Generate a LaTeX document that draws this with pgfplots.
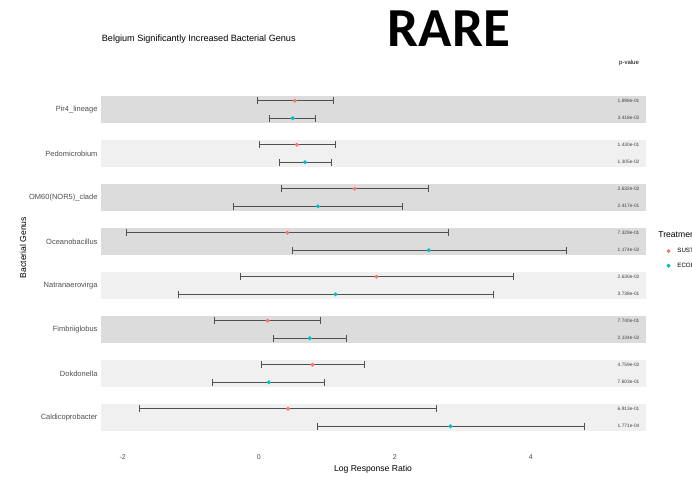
\documentclass[border=0pt]{standalone}
\usepackage{pgfplots}
\pgfplotsset{compat=1.18}
\usepackage{pgfplotstable}
\usepackage{fontspec}
\setmainfont{Liberation Sans}
\newfontfamily\rarefont{Carlito}
\definecolor{redS}{HTML}{F8766D}
\definecolor{tealE}{HTML}{00BFC4}
\definecolor{bandD}{HTML}{DCDCDC}
\definecolor{bandL}{HTML}{F0F0F0}
\definecolor{txtg}{HTML}{4D4D4D}
\definecolor{barc}{HTML}{505050}

\pgfplotstableread{
x y lo hi
0.53 8.2 -0.025 1.10
0.56 7.2 0.01 1.13
1.41 6.2 0.34 2.49
0.42 5.2 -1.95 2.79
1.73 4.2 -0.27 3.74
0.13 3.2 -0.65 0.90
0.79 2.2 0.04 1.55
0.43 1.2 -1.75 2.61
}\redtab

\pgfplotstableread{
x y lo hi
0.50 7.8 0.157 0.84
0.68 6.8 0.30 1.07
0.87 5.8 -0.37 2.11
2.50 4.8 0.50 4.53
1.13 3.8 -1.18 3.45
0.75 2.8 0.22 1.29
0.15 1.8 -0.68 0.97
2.82 0.8 0.86 4.79
}\tealtab

\begin{document}
\begin{tikzpicture}
\useasboundingbox (0,0) rectangle (692pt,476pt);
\begin{axis}[
  at={(101pt,45.3pt)}, anchor=south west,
  x=68pt, y=44pt,
  xmin=-2.32, xmax=5.69, ymin=0.7, ymax=8.3,
  clip=false,
  axis line style={draw=none},
  major tick length=0pt,
  tick style={draw=none},
  xtick={-2,0,2,4},
  ytick={1,2,3,4,5,6,7,8},
  yticklabels={Caldicoprobacter,Dokdonella,Fimbriiglobus,Natranaerovirga,Oceanobacillus,OM60(NOR5)\_clade,Pedomicrobium,Pir4\_lineage},
  /pgf/number format/assume math mode=true,
  xticklabel style={anchor=center, yshift=-26pt, font=\fontsize{7}{8}\selectfont, text=txtg},
  yticklabel style={font=\fontsize{7.5}{9}\selectfont, text=txtg},
  legend style={at={(axis description cs:1.026,0.601)}, anchor=north west, draw=none, fill=none,
     font=\fontsize{6.2}{7.5}\selectfont, row sep=4.8pt, inner sep=0pt},
  legend cell align=left,
]
% bands
\addplot[fill=bandL, draw=none, forget plot] coordinates {(-2.32,0.7) (5.69,0.7) (5.69,1.3) (-2.32,1.3)} -- cycle;
\addplot[fill=bandL, draw=none, forget plot] coordinates {(-2.32,1.7) (5.69,1.7) (5.69,2.3) (-2.32,2.3)} -- cycle;
\addplot[fill=bandD, draw=none, forget plot] coordinates {(-2.32,2.7) (5.69,2.7) (5.69,3.3) (-2.32,3.3)} -- cycle;
\addplot[fill=bandL, draw=none, forget plot] coordinates {(-2.32,3.7) (5.69,3.7) (5.69,4.3) (-2.32,4.3)} -- cycle;
\addplot[fill=bandD, draw=none, forget plot] coordinates {(-2.32,4.7) (5.69,4.7) (5.69,5.3) (-2.32,5.3)} -- cycle;
\addplot[fill=bandD, draw=none, forget plot] coordinates {(-2.32,5.7) (5.69,5.7) (5.69,6.3) (-2.32,6.3)} -- cycle;
\addplot[fill=bandL, draw=none, forget plot] coordinates {(-2.32,6.7) (5.69,6.7) (5.69,7.3) (-2.32,7.3)} -- cycle;
\addplot[fill=bandD, draw=none, forget plot] coordinates {(-2.32,7.7) (5.69,7.7) (5.69,8.3) (-2.32,8.3)} -- cycle;
% error bars
\addplot[draw=none, mark=none, forget plot,
  error bars/.cd, x dir=both, x explicit,
  error bar style={draw=barc, line width=0.9pt},
  error mark options={rotate=90, draw=barc, line width=0.9pt, mark size=3.5pt}]
  table[x=x, y=y, x error plus expr=\thisrow{hi}-\thisrow{x}, x error minus expr=\thisrow{x}-\thisrow{lo}]{\redtab};
\addplot[draw=none, mark=none, forget plot,
  error bars/.cd, x dir=both, x explicit,
  error bar style={draw=barc, line width=0.9pt},
  error mark options={rotate=90, draw=barc, line width=0.9pt, mark size=3.5pt}]
  table[x=x, y=y, x error plus expr=\thisrow{hi}-\thisrow{x}, x error minus expr=\thisrow{x}-\thisrow{lo}]{\tealtab};
% legend title
\addlegendimage{empty legend}
\addlegendentry{\hspace{-14pt}\fontsize{8.6}{10}\selectfont Treatment}
% points
\addplot[only marks, mark=*, mark size=1.8pt, color=redS, mark options={draw=redS, fill=redS}] table[x=x,y=y]{\redtab};
\addlegendentry{\hspace{5pt}SUSTAINABLE}
\addplot[only marks, mark=*, mark size=1.8pt, color=tealE, mark options={draw=tealE, fill=tealE}] table[x=x,y=y]{\tealtab};
\addlegendentry{\hspace{5pt}ECOLOGICAL}
% p-values
\begin{scope}[every node/.style={anchor=east, font=\fontsize{4.8}{5}\selectfont, text=black!75, inner sep=0pt}]
\node at (axis cs:5.60,8.2) {1.898e-01};
\node at (axis cs:5.60,7.8) {3.418e-02};
\node at (axis cs:5.60,7.2) {1.430e-01};
\node at (axis cs:5.60,6.8) {1.305e-02};
\node at (axis cs:5.60,6.2) {2.632e-02};
\node at (axis cs:5.60,5.8) {2.417e-01};
\node at (axis cs:5.60,5.2) {7.329e-01};
\node at (axis cs:5.60,4.8) {1.174e-02};
\node at (axis cs:5.60,4.2) {2.630e-02};
\node at (axis cs:5.60,3.8) {3.738e-01};
\node at (axis cs:5.60,3.2) {7.740e-01};
\node at (axis cs:5.60,2.8) {2.134e-02};
\node at (axis cs:5.60,2.2) {4.759e-02};
\node at (axis cs:5.60,1.8) {7.603e-01};
\node at (axis cs:5.60,1.2) {6.913e-01};
\node at (axis cs:5.60,0.8) {1.771e-04};
\end{scope}
\end{axis}
% titles
\node[anchor=west, font=\fontsize{9.1}{11}\selectfont, inner sep=0pt] at (101.7pt,437pt) {Belgium Significantly Increased Bacterial Genus};
\node[font=\rarefont\bfseries\fontsize{55}{60}\selectfont, inner sep=0pt] at (449pt,447.7pt) {RARE};
\node[font=\fontsize{6}{7}\selectfont, inner sep=0pt] at (629pt,413pt) {p-value};
\node[rotate=90, font=\fontsize{8.6}{10}\selectfont, inner sep=0pt] at (23pt,228.5pt) {Bacterial Genus};
\node[font=\fontsize{8.6}{10}\selectfont, inner sep=0pt] at (373pt,7pt) {Log Response Ratio};
\end{tikzpicture}
\end{document}
